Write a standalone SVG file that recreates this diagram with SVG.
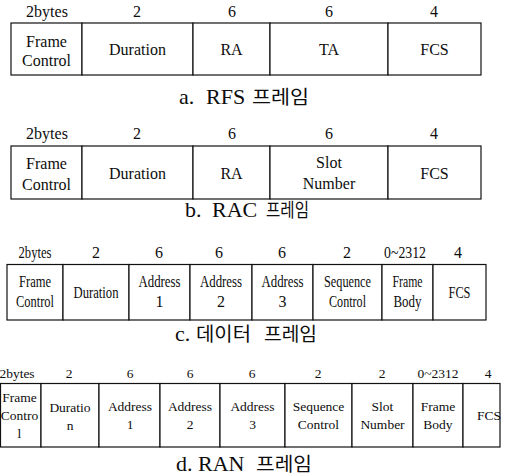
<svg xmlns="http://www.w3.org/2000/svg" width="505" height="476" viewBox="0 0 505 476" font-family="'Liberation Serif', serif">
<style>
  .bg { fill: #ffffff; }
  rect.cell { fill: #ffffff; stroke: #111111; stroke-width: 1.2; }
  text { font-family: 'Liberation Serif', serif; fill: #0d0d0d; text-anchor: middle; }
  .t16 { font-size: 16px; }
  .t13 { font-size: 13.5px; }
  .cap { font-size: 22px; text-anchor: start; }
  text.kr { font-family: 'Noto Sans CJK KR', sans-serif; font-size: 19px; text-anchor: start; }
</style>
<rect class="bg" x="0" y="0" width="505" height="476"/>

<!-- a. RFS frame -->
<g id="frame-rfs">
  <g class="t16">
    <text x="47" y="17">2bytes</text>
    <text x="137" y="17">2</text>
    <text x="232" y="17">6</text>
    <text x="329" y="17">6</text>
    <text x="434" y="17">4</text>
  </g>
  <g id="rfs-fc"><rect class="cell" x="11" y="23" width="71" height="52"/><text class="t16" x="46.5" y="47">Frame</text><text class="t16" x="46.5" y="66">Control</text></g>
  <g id="rfs-dur"><rect class="cell" x="82" y="23" width="111" height="52"/><text class="t16" x="137.5" y="55">Duration</text></g>
  <g id="rfs-ra"><rect class="cell" x="193" y="23" width="77" height="52"/><text class="t16" x="231.5" y="55">RA</text></g>
  <g id="rfs-ta"><rect class="cell" x="270" y="23" width="118" height="52"/><text class="t16" x="329" y="55">TA</text></g>
  <g id="rfs-fcs"><rect class="cell" x="388" y="23" width="93" height="52"/><text class="t16" x="434.5" y="55">FCS</text></g>
  <text class="cap" y="104"><tspan x="179">a.</tspan><tspan x="206">RFS</tspan></text>
  <text class="kr" x="252" y="104" textLength="57" lengthAdjust="spacingAndGlyphs">프레임</text>
</g>

<!-- b. RAC frame -->
<g id="frame-rac">
  <g class="t16">
    <text x="47" y="139">2bytes</text>
    <text x="137" y="139">2</text>
    <text x="232" y="139">6</text>
    <text x="329" y="139">6</text>
    <text x="434" y="139">4</text>
  </g>
  <g id="rac-fc"><rect class="cell" x="11" y="146" width="71" height="53"/><text class="t16" x="46.5" y="169">Frame</text><text class="t16" x="46.5" y="190">Control</text></g>
  <g id="rac-dur"><rect class="cell" x="82" y="146" width="111" height="53"/><text class="t16" x="137.5" y="179">Duration</text></g>
  <g id="rac-ra"><rect class="cell" x="193" y="146" width="77" height="53"/><text class="t16" x="231.5" y="179">RA</text></g>
  <g id="rac-slot"><rect class="cell" x="270" y="146" width="118" height="53"/><text class="t16" x="329" y="168">Slot</text><text class="t16" x="329" y="189">Number</text></g>
  <g id="rac-fcs"><rect class="cell" x="388" y="146" width="93" height="53"/><text class="t16" x="434.5" y="179">FCS</text></g>
  <text class="cap" y="217"><tspan x="185">b.</tspan><tspan x="212">RAC</tspan></text>
  <text class="kr" x="266" y="217" textLength="43" lengthAdjust="spacingAndGlyphs">프레임</text>
</g>

<!-- c. Data frame -->
<g id="frame-data">
  <g class="t16">
    <text x="35" y="258" textLength="33" lengthAdjust="spacingAndGlyphs">2bytes</text>
    <text x="96" y="258">2</text>
    <text x="159" y="258">6</text>
    <text x="219" y="258">6</text>
    <text x="282" y="258">6</text>
    <text x="347" y="258">2</text>
    <text x="405" y="258" textLength="42" lengthAdjust="spacingAndGlyphs">0~2312</text>
    <text x="458" y="258">4</text>
  </g>
  <g id="data-fc"><rect class="cell" x="7" y="264.5" width="56" height="55.5"/><text class="t16" x="35" y="287" textLength="32" lengthAdjust="spacingAndGlyphs">Frame</text><text class="t16" x="35" y="307" textLength="38" lengthAdjust="spacingAndGlyphs">Control</text></g>
  <g id="data-dur"><rect class="cell" x="63" y="264.5" width="66" height="55.5"/><text class="t16" x="96" y="298" textLength="45" lengthAdjust="spacingAndGlyphs">Duration</text></g>
  <g id="data-a1"><rect class="cell" x="129" y="264.5" width="61" height="55.5"/><text class="t16" x="159.5" y="287" textLength="42" lengthAdjust="spacingAndGlyphs">Address</text><text class="t16" x="159.5" y="307">1</text></g>
  <g id="data-a2"><rect class="cell" x="190" y="264.5" width="62" height="55.5"/><text class="t16" x="221" y="287" textLength="42" lengthAdjust="spacingAndGlyphs">Address</text><text class="t16" x="221" y="307">2</text></g>
  <g id="data-a3"><rect class="cell" x="252" y="264.5" width="61" height="55.5"/><text class="t16" x="282.5" y="287" textLength="42" lengthAdjust="spacingAndGlyphs">Address</text><text class="t16" x="282.5" y="307">3</text></g>
  <g id="data-seq"><rect class="cell" x="313" y="264.5" width="69" height="55.5"/><text class="t16" x="347.5" y="287" textLength="47" lengthAdjust="spacingAndGlyphs">Sequence</text><text class="t16" x="347.5" y="307" textLength="37" lengthAdjust="spacingAndGlyphs">Control</text></g>
  <g id="data-body"><rect class="cell" x="382" y="264.5" width="51" height="55.5"/><text class="t16" x="407.5" y="287" textLength="30" lengthAdjust="spacingAndGlyphs">Frame</text><text class="t16" x="407.5" y="307" textLength="28" lengthAdjust="spacingAndGlyphs">Body</text></g>
  <g id="data-fcs"><rect class="cell" x="433" y="264.5" width="53" height="55.5"/><text class="t16" x="459.5" y="298" textLength="22" lengthAdjust="spacingAndGlyphs">FCS</text></g>
  <text class="cap" x="175" y="341">c.</text>
  <text class="kr" x="196" y="341" textLength="55" lengthAdjust="spacingAndGlyphs">데이터</text>
  <text class="kr" x="264" y="341" textLength="53" lengthAdjust="spacingAndGlyphs">프레임</text>
</g>

<!-- d. RAN frame -->
<g id="frame-ran">
  <g class="t13">
    <text x="17" y="378">2bytes</text>
    <text x="69" y="378">2</text>
    <text x="130" y="378">6</text>
    <text x="190" y="378">6</text>
    <text x="252" y="378">6</text>
    <text x="318" y="378">2</text>
    <text x="382" y="378">2</text>
    <text x="438" y="378">0~2312</text>
    <text x="488" y="378">4</text>
  </g>
  <g id="ran-fc"><rect class="cell" x="0.5" y="383.5" width="40.5" height="63.5"/><text class="t13" x="19.5" y="402">Frame</text><text class="t13" x="19.5" y="420">Contro</text><text class="t13" x="19.5" y="438">l</text></g>
  <g id="ran-dur"><rect class="cell" x="41" y="383.5" width="58" height="63.5"/><text class="t13" x="70" y="412">Duratio</text><text class="t13" x="70" y="430">n</text></g>
  <g id="ran-a1"><rect class="cell" x="99" y="383.5" width="61" height="63.5"/><text class="t13" x="130" y="411">Address</text><text class="t13" x="130" y="429">1</text></g>
  <g id="ran-a2"><rect class="cell" x="160" y="383.5" width="60" height="63.5"/><text class="t13" x="190" y="411">Address</text><text class="t13" x="190" y="429">2</text></g>
  <g id="ran-a3"><rect class="cell" x="220" y="383.5" width="65" height="63.5"/><text class="t13" x="252.5" y="411">Address</text><text class="t13" x="252.5" y="429">3</text></g>
  <g id="ran-seq"><rect class="cell" x="285" y="383.5" width="67" height="63.5"/><text class="t13" x="318.5" y="411">Sequence</text><text class="t13" x="318.5" y="429">Control</text></g>
  <g id="ran-slot"><rect class="cell" x="352" y="383.5" width="61" height="63.5"/><text class="t13" x="382.5" y="411">Slot</text><text class="t13" x="382.5" y="429">Number</text></g>
  <g id="ran-body"><rect class="cell" x="413" y="383.5" width="50" height="63.5"/><text class="t13" x="438" y="411">Frame</text><text class="t13" x="438" y="429">Body</text></g>
  <g id="ran-fcs"><rect class="cell" x="463" y="383.5" width="37" height="63.5"/><text class="t13" x="489" y="420">FCS</text></g>
  <text class="cap" y="471"><tspan x="176">d.</tspan><tspan x="198">RAN</tspan></text>
  <text class="kr" x="256" y="471" textLength="56" lengthAdjust="spacingAndGlyphs">프레임</text>
</g>

<g id="connectors"/>
</svg>
